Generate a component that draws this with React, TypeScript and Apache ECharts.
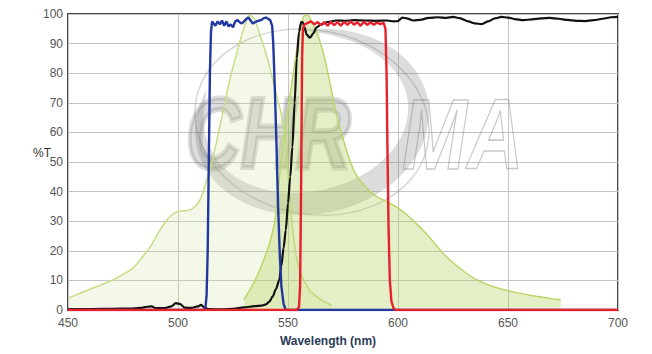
import React, { useEffect, useRef } from "react";
import * as echarts from "echarts";

// ---------- data ----------
const xTicks = [450, 500, 550, 600, 650, 700];
const yTicks = [0, 10, 20, 30, 40, 50, 60, 70, 80, 90, 100];

// Excitation spectrum (pale green)
const excitationWl = [450, 455, 460, 465, 470, 475, 480, 485, 488, 491, 494, 497, 500, 503, 506, 509, 511, 513, 515, 517, 519, 521, 523, 525, 527, 529, 531, 532.5, 534, 535.5, 537, 539, 541, 543, 545, 547, 548.6, 550, 551, 552, 553, 554, 556, 558, 560, 563, 566, 570];
const excitationT = [4, 5.5, 7, 8.5, 10, 12, 14.5, 19, 22, 26, 29.5, 32, 33.3, 33.5, 34, 36, 39, 44, 49, 55, 62, 69, 76, 82, 87.5, 93, 97.5, 99.5, 99, 97, 93.5, 89, 84, 78, 72, 66, 60, 46, 36, 28, 22, 17, 12, 9, 6.5, 4.5, 3, 1.5];

// Emission spectrum (green)
const emissionWl = [530, 532, 534, 536, 538, 540, 542, 544, 545, 546, 547, 548.6, 550, 552, 554, 556, 557.5, 559, 561, 563, 565, 567, 569, 571, 573, 575, 577, 580, 583, 586, 590, 595, 600, 605, 610, 615, 620, 625, 630, 635, 640, 645, 650, 655, 660, 665, 670, 674];
const emissionT = [3.5, 6, 8.5, 11.5, 15, 19, 23.5, 30, 36, 44, 52, 61, 68, 78, 88, 96, 99.5, 99.5, 97, 94, 89.5, 84, 77, 69.5, 63, 58, 53, 47, 43.5, 41, 38.5, 36.5, 34.5, 31.5, 28, 24, 19.5, 16, 13, 10.5, 8.8, 7.5, 6.5, 5.7, 5, 4.4, 3.8, 3.4];

// Excitation filter (blue)
const exFilterWl = [450, 512, 512.5, 513, 513.5, 514, 514.5, 515, 515.5, 516, 517, 518, 519, 520, 521, 522, 523, 524, 525, 526, 527, 528, 529, 530, 531, 532, 533, 534, 535, 536, 537, 538, 539, 540, 541, 542, 542.8, 543.3, 544, 544.8, 545.5, 546.3, 547, 548, 549, 700];
const exFilterT = [0, 0, 1, 5, 20, 50, 80, 94, 97.5, 97, 96, 97.5, 96.5, 97.8, 96, 97.5, 95.8, 96.5, 95.5, 97.5, 98, 97.2, 96.8, 97.5, 98.3, 98.8, 97.8, 96.8, 97.2, 97.6, 97.8, 98, 98.6, 98.8, 98.4, 97.8, 96, 90, 75, 55, 35, 18, 8, 2, 0, 0];

// Dichroic (black)
const dichroicWl = [450, 460, 470, 478, 483, 486, 488, 490, 494, 497, 499, 501, 503, 506, 509, 510.5, 512, 514, 520, 525, 530, 535, 538, 540, 541.5, 543, 544.5, 546, 547, 548, 549, 550, 551, 552, 553, 554, 555, 556, 556.7, 557.5, 558.5, 560, 561.5, 563, 565, 568, 572, 576, 580, 585, 590, 595, 598, 600, 602, 604, 607, 610, 614, 618, 622, 625, 628, 632, 635, 638, 641, 644, 647, 650, 653, 657, 661, 665, 669, 673, 677, 681, 685, 689, 693, 697, 700];
const dichroicT = [0.3, 0.3, 0.4, 0.5, 0.7, 1.1, 1.2, 0.6, 0.6, 1.2, 2.3, 2, 0.8, 0.7, 1.2, 1.7, 0.8, 0.3, 0.2, 0.4, 0.9, 1.3, 1.5, 1.9, 2.8, 4.5, 7, 10, 15, 21, 27, 36, 45, 55, 70, 85, 94, 97.3, 97.3, 95.5, 93, 92, 93.5, 95.5, 96.5, 97.3, 97.8, 97.7, 97.9, 97.8, 97.7, 97.8, 97.5, 97.6, 98.8, 98.5, 97.8, 98, 98.7, 98.9, 98.7, 99, 98.6, 97.5, 96.8, 96.6, 97.5, 98.5, 99, 98.8, 98.3, 97.9, 98.2, 98.5, 98.7, 98.4, 98, 97.7, 97.6, 97.9, 98.4, 98.9, 99];

// Emission filter (red)
const emFilterWl = [450, 554, 555, 555.5, 556, 556.4, 556.8, 557.5, 559, 560.5, 562, 563.5, 565, 566.5, 568, 569.5, 571, 572.5, 574, 575.5, 577, 578.5, 580, 581.5, 583, 584.5, 586, 587.5, 589, 590.5, 592, 593.5, 594.3, 594.8, 595.2, 595.7, 596.3, 597, 598, 599, 700];
const emFilterT = [0, 0, 1, 8, 45, 85, 95, 96.5, 97, 97.5, 96.5, 97.3, 96.2, 97.3, 96, 97.4, 96.2, 97.3, 96, 97.4, 96.3, 97.5, 96.4, 97.2, 96, 97.4, 96.3, 97.2, 96.4, 97.1, 96.6, 97, 95, 80, 55, 28, 10, 3, 0.5, 0, 0];

const zip = (xs: number[], ys: number[]) => xs.map((x, i) => [x, ys[i]]);

// watermark swoosh: a tapered crescent along an ellipse (decoration only)
function crescentPoints(cx: number, cy: number, rx: number, ry: number, rot: number, a0: number, a1: number, thick: number) {
  const outer: number[][] = [];
  const inner: number[][] = [];
  const n = 60;
  const cr = Math.cos(rot), sr = Math.sin(rot);
  for (let i = 0; i <= n; i++) {
    const t = i / n;
    const a = ((a0 + (a1 - a0) * t) * Math.PI) / 180;
    const w = thick * Math.pow(Math.sin(Math.PI * t), 0.7);
    const ox = rx * Math.cos(a), oy = ry * Math.sin(a);
    const ix = (rx - w) * Math.cos(a), iy = (ry - w) * Math.sin(a);
    outer.push([cx + ox * cr - oy * sr, cy + ox * sr + oy * cr]);
    inner.push([cx + ix * cr - iy * sr, cy + ix * sr + iy * cr]);
  }
  return outer.concat(inner.reverse());
}

export default function App() {
  const ref = useRef<HTMLDivElement>(null);

  useEffect(() => {
    if (!ref.current) return;
    const chart = echarts.init(ref.current, null, { renderer: "svg" });
    const font = 'Arial, "Liberation Sans", sans-serif';
    const wmColor = "rgba(120,120,120,0.26)";
    chart.setOption({
      animation: false,
      backgroundColor: "#ffffff",
      grid: {
        left: 68,
        right: 34,
        top: 14,
        bottom: 44,
        show: true,
        borderColor: "#3f494f",
        borderWidth: 2,
        backgroundColor: "transparent",
      },
      xAxis: {
        type: "value",
        min: xTicks[0],
        max: xTicks[xTicks.length - 1],
        interval: 50,
        axisLine: { show: false },
        axisTick: { show: false },
        axisLabel: { color: "#555", fontSize: 12, fontFamily: font, margin: 7 },
        splitLine: { show: true, lineStyle: { color: "#c4c4c4", width: 1 } },
      },
      yAxis: {
        type: "value",
        min: yTicks[0],
        max: yTicks[yTicks.length - 1],
        interval: 10,
        axisLine: { show: false },
        axisTick: { show: false },
        axisLabel: { color: "#555", fontSize: 12, fontFamily: font, margin: 5 },
        splitLine: { show: true, lineStyle: { color: "#c4c4c4", width: 1 } },
      },
      graphic: [
        {
          type: "ellipse",
          z: 1,
          silent: true,
          shape: { cx: 312, cy: 122, rx: 118, ry: 92 },
          rotation: -0.2,
          originX: 312,
          originY: 122,
          style: { fill: "transparent", stroke: "rgba(120,120,120,0.3)", lineWidth: 1.5 },
        },
        {
          type: "polygon",
          z: 1,
          silent: true,
          shape: { points: crescentPoints(312, 122, 118, 92, -0.2, -85, 215, 24) },
          style: { fill: wmColor },
        },
        {
          type: "text",
          x: 186,
          y: 84,
          scaleX: 0.76,
          z: 1,
          silent: true,
          style: {
            text: "CHR",
            fontSize: 100,
            fontStyle: "italic",
            fontWeight: "bold",
            fontFamily: "Liberation Sans",
            fill: wmColor,
            stroke: wmColor,
            lineWidth: 5,
            align: "left",
            verticalAlign: "top",
            textAlign: "left",
            textVerticalAlign: "top",
          },
        },
        {
          type: "text",
          x: 402,
          y: 84,
          scaleX: 0.78,
          z: 1,
          silent: true,
          style: {
            text: "MA",
            fontSize: 100,
            fontStyle: "italic",
            fontWeight: "bold",
            fontFamily: "Liberation Sans",
            fill: "transparent",
            stroke: "rgba(120,120,120,0.4)",
            lineWidth: 1.5,
            align: "left",
            verticalAlign: "top",
            textAlign: "left",
            textVerticalAlign: "top",
          },
        },
        {
          type: "text",
          x: 33,
          y: 147,
          z: 5,
          style: {
            text: "%T",
            fontSize: 12,
            fontFamily: font,
            fill: "#333",
            align: "left",
            verticalAlign: "top",
            textAlign: "left",
            textVerticalAlign: "top",
          },
        },
        {
          type: "text",
          x: 328,
          y: 341,
          z: 5,
          style: {
            text: "Wavelength (nm)",
            fontSize: 12,
            fontWeight: "bold",
            fontFamily: font,
            fill: "#2b3b58",
            align: "center",
            verticalAlign: "middle",
            textAlign: "center",
            textVerticalAlign: "middle",
          },
        },
      ],
      series: [
        {
          name: "Excitation",
          type: "line",
          data: zip(excitationWl, excitationT),
          showSymbol: false,
          smooth: 0.3,
          lineStyle: { color: "#c8dd86", width: 1.5 },
          areaStyle: { color: "rgba(205,225,150,0.32)" },
          z: 2,
        },
        {
          name: "Emission",
          type: "line",
          data: zip(emissionWl, emissionT),
          showSymbol: false,
          smooth: 0.3,
          lineStyle: { color: "#bcd66a", width: 1.5 },
          areaStyle: { color: "rgba(180,210,95,0.5)" },
          z: 3,
        },
        {
          name: "Dichroic",
          type: "line",
          data: zip(dichroicWl, dichroicT),
          showSymbol: false,
          smooth: 0.3,
          smoothMonotone: "x",
          lineStyle: { color: "#111111", width: 2.2 },
          z: 4,
        },
        {
          name: "Excitation filter",
          type: "line",
          data: zip(exFilterWl, exFilterT),
          showSymbol: false,
          lineStyle: { color: "#2238a0", width: 2.4 },
          z: 5,
        },
        {
          name: "Emission filter",
          type: "line",
          data: zip(emFilterWl, emFilterT),
          showSymbol: false,
          lineStyle: { color: "#e8202c", width: 2.4 },
          z: 6,
        },
      ],
    });
    return () => chart.dispose();
  }, []);

  return <div ref={ref} style={{ width: 652, height: 354, position: "absolute", left: 0, top: 0 }} />;
}
